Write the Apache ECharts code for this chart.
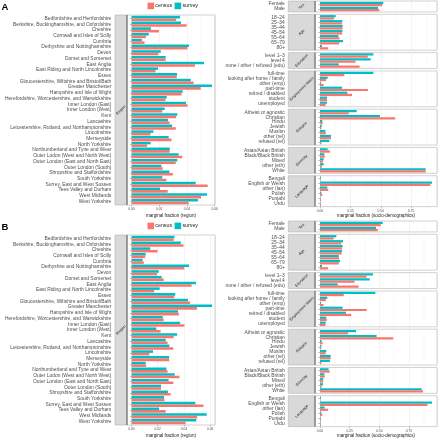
<!DOCTYPE html>
<html><head><meta charset="utf-8">
<script src="https://cdn.jsdelivr.net/npm/echarts@6/dist/echarts.min.js"></script>
<style>html,body{margin:0;padding:0;background:#fff}#c{width:438px;height:440px}</style>
</head><body><div id="c"></div>
<script>
const regions = ['Bedfordshire and Hertfordshire','Berkshire, Buckinghamshire, and Oxfordshire','Cheshire','Cornwall and Isles of Scilly','Cumbria','Derbyshire and Nottinghamshire','Devon','Dorset and Somerset','East Anglia','East Riding and North Lincolnshire','Essex','Gloucestershire, Wiltshire and Bristol/Bath','Greater Manchester','Hampshire and Isle of Wight','Herefordshire, Worcestershire, and Warwickshire','Inner London (East)','Inner London (West)','Kent','Lancashire','Leicestershire, Rutland, and Northamptonshire','Lincolnshire','Merseyside','North Yorkshire','Northumberland and Tyne and Wear','Outer Lodon (West and North West)','Outer London (East and North East)','Outer London (South)','Shropshire and Staffordshire','South Yorkshire','Surrey, East and West Sussex','Tees Valley and Durham','West Midlands','West Yorkshire'];
const regionCensus = [0.0322,0.0397,0.0198,0.0104,0.0094,0.0403,0.0194,0.0246,0.0458,0.0173,0.0326,0.0447,0.0499,0.0361,0.0245,0.0404,0.0222,0.0322,0.0275,0.0319,0.0137,0.0288,0.0112,0.0275,0.0366,0.0319,0.0225,0.0298,0.0252,0.0549,0.0261,0.0501,0.0413];
const regionSurveyA = [0.0350,0.0357,0.0140,0.0124,0.0075,0.0415,0.0211,0.0246,0.0523,0.0191,0.0328,0.0427,0.0580,0.0369,0.0254,0.0393,0.0239,0.0330,0.0263,0.0292,0.0157,0.0268,0.0138,0.0276,0.0340,0.0330,0.0215,0.0273,0.0222,0.0463,0.0206,0.0544,0.0479];
const regionSurveyB = [0.0327,0.0376,0.0143,0.0108,0.0085,0.0439,0.0208,0.0230,0.0492,0.0215,0.0334,0.0431,0.0615,0.0355,0.0238,0.0371,0.0189,0.0348,0.0261,0.0289,0.0164,0.0287,0.0108,0.0266,0.0330,0.0283,0.0225,0.0278,0.0248,0.0487,0.0210,0.0574,0.0494];

const facetNames = ['Sex','Age','Education','Employment status','Religion','Ethnicity','Language'];

const sexCats = ['Female','Male'];
const sexCensus = [0.512,0.488];
const sexSurveyA = [0.521,0.477];
const sexSurveyB = [0.529,0.473];

const ageCats = ['18–24','25–34','35–44','45–54','55–64','65–79','80+'];
const ageCensus = [0.115,0.180,0.185,0.182,0.161,0.158,0.067];
const ageSurveyA = [0.129,0.184,0.186,0.184,0.151,0.189,0.016];
const ageSurveyB = [0.138,0.194,0.191,0.186,0.158,0.169,0.017];

const eduCats = ['level 1–3','level 4','none / other / refused (edu)'];
const eduCensus = [0.393,0.292,0.326];
const eduSurveyA = [0.439,0.417,0.154];
const eduSurveyB = [0.447,0.419,0.149];

const empCats = ['full-time','looking after home / family','other (emp)','part-time','retired / disabled','student','unemployed'];
const empCensus = [0.200,0.049,0.029,0.394,0.263,0.058,0.046];
const empSurveyA = [0.439,0.063,0.008,0.181,0.225,0.058,0.058];
const empSurveyB = [0.467,0.062,0.008,0.191,0.219,0.053,0.048];

const relCats = ['Atheist or agnostic','Christian','Hindu','Jewish','Muslim','other (rel)','refused (rel)'];
const relCensus = [0.237,0.618,0.022,0.011,0.048,0.090,0.011];
const relSurveyA = [0.302,0.493,0.019,0.014,0.044,0.090,0.077];
const relSurveyB = [0.304,0.478,0.014,0.011,0.053,0.090,0.084];

const ethCats = ['Asian/Asian British','Black/Black British','Mixed','other (eth)','White'];
const ethCensus = [0.082,0.040,0.026,0.015,0.869];
const ethSurveyA = [0.063,0.036,0.030,0.030,0.869];
const ethSurveyB = [0.073,0.037,0.028,0.025,0.858];

const lanCats = ['Bengali','English or Welsh','other (lan)','Polish','Punjabi','Urdu'];
const lanCensus = [0.005,0.907,0.068,0.019,0.008,0.008];
const lanSurveyA = [0.008,0.921,0.060,0.011,0.005,0.005];
const lanSurveyB = [0.008,0.945,0.039,0.011,0.006,0.006];

const regionTicks = [0, 0.02, 0.04, 0.06];
const socioTicks = [0, 0.25, 0.50, 0.75];
const seriesNames = ['census','survey'];
const panelLabels = ['A','B'];

const facetCats = [sexCats, ageCats, eduCats, empCats, relCats, ethCats, lanCats];
const facetCensus = [sexCensus, ageCensus, eduCensus, empCensus, relCensus, ethCensus, lanCensus];
const facetSurveyA = [sexSurveyA, ageSurveyA, eduSurveyA, empSurveyA, relSurveyA, ethSurveyA, lanSurveyA];
const facetSurveyB = [sexSurveyB, ageSurveyB, eduSurveyB, empSurveyB, relSurveyB, ethSurveyB, lanSurveyB];

// ---------- layout ----------
const FONT = 'Liberation Sans';
const COL = {census:'#F8766D', survey:'#00BFC4'};
const panels = [
  {oy:0,   leftMax:0.0602, rightMax:0.962, regSurvey:regionSurveyA, socSurvey:facetSurveyA},
  {oy:220, leftMax:0.0637, rightMax:0.987, regSurvey:regionSurveyB, socSurvey:facetSurveyB}
];
const grids=[], xAxes=[], yAxes=[], series=[], graphics=[], legends=[];
const GRID_C = '#e6e6e6', MINOR_C = '#f1f1f1', BORDER_C = '#b3b3b3', STRIP_F = '#d9d9d9';
const tickFmt = (step) => (v) => Math.abs(v/step - Math.round(v/step)) < 1e-6 ? v.toFixed(2) : '';

function addGrid(left, top, width, height, cats, censusVals, surveyVals, max, step, showX, yOffset){
  const gi = grids.length;
  grids.push({left:left, top:top, width:width, height:height, containLabel:false});
  xAxes.push({gridIndex:gi, type:'value', min:0, max:max, interval:step,
    axisLine:{show:false},
    axisTick:{show:showX, length:1.6, lineStyle:{color:'#777', width:0.5}},
    axisLabel:{show:showX, fontSize:3.3, color:'#4d4d4d', margin:2.6, fontFamily:FONT, formatter:tickFmt(step), showMaxLabel:false},
    splitLine:{show:true, lineStyle:{color:GRID_C, width:0.5}},
    minorTick:{show:false, splitNumber:2},
    minorSplitLine:{show:true, lineStyle:{color:MINOR_C, width:0.4}},
    offset: showX ? 0.5 : 0
  });
  yAxes.push({gridIndex:gi, type:'category', data:cats, inverse:true, offset:yOffset,
    axisLine:{show:false},
    axisTick:{show:true, alignWithLabel:true, interval:0, length:1.6, lineStyle:{color:'#777', width:0.5}},
    axisLabel:{interval:0, fontSize:4.9, color:'#4d4d4d', margin:3.0, fontFamily:FONT},
    splitLine:{show:false}
  });
  // survey first so it sits above census within each category (as in the reference)
  series.push({name:'survey', type:'bar', xAxisIndex:gi, yAxisIndex:gi, data:surveyVals,
    itemStyle:{color:COL.survey}, barCategoryGap:'10%', barGap:'0%', silent:true});
  series.push({name:'census', type:'bar', xAxisIndex:gi, yAxisIndex:gi, data:censusVals,
    itemStyle:{color:COL.census}, barCategoryGap:'10%', barGap:'0%', silent:true});
}
function rect(x,y,w,h,fill,stroke,z){
  graphics.push({type:'rect', shape:{x:x,y:y,width:w,height:h}, style:{fill:fill, stroke:stroke, lineWidth:0.6}, z:z, silent:true});
}
function txt(x,y,t,size,opts){
  graphics.push(Object.assign({type:'text', x:x, y:y, z:120, silent:true,
    style:{text:t, fontSize:size, fontFamily:FONT, fill:'#1a1a1a', textAlign:'center', textVerticalAlign:'middle'}}, opts||{}));
}
function vline(x,y1,y2){
  graphics.push({type:'line', shape:{x1:x,y1:y1,x2:x,y2:y2}, style:{stroke:'#4d4d4d', lineWidth:0.8}, z:110, silent:true});
}

panels.forEach((p, pi) => {
  const oy = p.oy;
  graphics.push({type:'text', x:1.5, y:oy+2, z:120, silent:true,
    style:{text:panelLabels[pi], fontSize:9.5, fontWeight:'bold', fontFamily:FONT, fill:'#000'}});
  legends.push({data:seriesNames, left:147.5, top:oy+2.6, padding:0, itemWidth:6.6, itemHeight:6.6, itemGap:2.5,
    icon:'rect', selectedMode:false, textStyle:{fontSize:5.3, color:'#1a1a1a', fontFamily:FONT, padding:[0,0,0,-3.8]}});

  // ----- left: region -----
  const lTop = oy+15, lBot = oy+205, lx0 = 127, lx1 = 215;
  const u = (lBot-lTop)/(regions.length+0.2);
  rect(lx0, lTop, lx1-lx0, lBot-lTop, 'none', BORDER_C, 100);
  rect(115, lTop, lx0-115, lBot-lTop, STRIP_F, BORDER_C, 90);
  vline(lx0, lTop, lBot);
  txt(121, (lTop+lBot)/2, 'Region', 3.8, {rotation:Math.PI/4});
  addGrid(131.5, lTop+0.1*u, lx1-131.5, regions.length*u, regions, regionCensus, p.regSurvey, p.leftMax, 0.02, true, 131.5-114.3);
  txt((lx0+lx1)/2, oy+215.6, 'marginal fraction (region)', 4.5);

  // ----- right: socio-demographics -----
  const u2 = 4.98, gap = 2.4, rx0 = 315, rx1 = 437;
  let top = oy+1;
  facetCats.forEach((cats, k) => {
    const h = (cats.length+0.2)*u2;
    rect(rx0, top, rx1-rx0, h, 'none', BORDER_C, 100);
    rect(288.3, top, rx0-288.3, h, STRIP_F, BORDER_C, 90);
    vline(rx0, top, top+h);
    txt((288.3+rx0)/2, top+h/2, facetNames[k], 3.8, {rotation:Math.PI/4});
    addGrid(320, top+0.1*u2, rx1-320, cats.length*u2, cats, facetCensus[k], p.socSurvey[k], p.rightMax, 0.25, k===facetCats.length-1, 320-287.8);
    top += h + gap;
  });
  txt((rx0+rx1)/2, oy+215.6, 'marginal fraction (socio-demographics)', 4.5);
});

const chart = echarts.init(document.getElementById('c'), null, {renderer:'canvas'});
chart.setOption({
  animation:false,
  backgroundColor:'#ffffff',
  textStyle:{fontFamily:FONT},
  legend:legends,
  grid:grids, xAxis:xAxes, yAxis:yAxes, series:series,
  graphic:{elements:graphics}
});
</script></body></html>
